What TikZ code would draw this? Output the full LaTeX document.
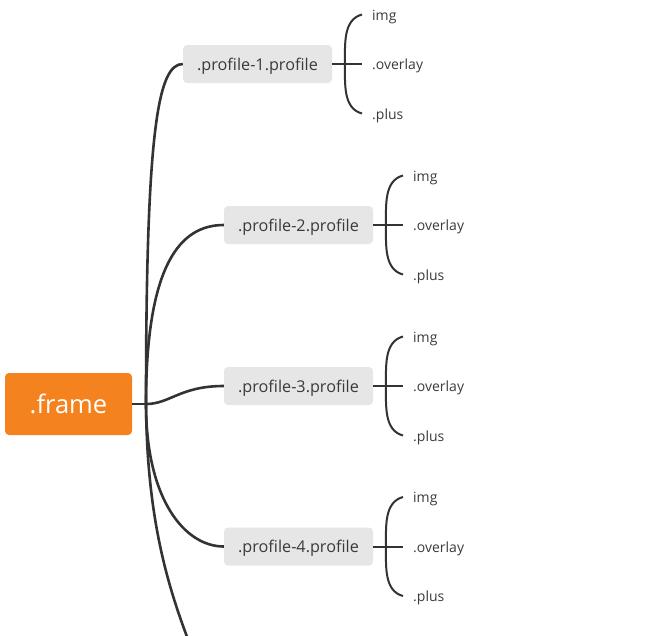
\documentclass[tikz,border=0pt]{standalone}
\usepackage{fontspec}
\setmainfont{Open Sans}
\definecolor{frameorange}{HTML}{F4831F}
\definecolor{boxgrey}{HTML}{E6E6E6}
\definecolor{linegrey}{HTML}{333333}
\definecolor{textgrey}{HTML}{3A3A3A}
\tikzset{
  rootbox/.style={fill=frameorange, rounded corners=4pt, minimum width=127pt, minimum height=62pt, inner sep=0pt, text=white, font=\fontsize{25.5}{28}\selectfont},
  profbox/.style={fill=boxgrey, rounded corners=4pt, minimum width=149pt, minimum height=38pt, inner sep=0pt, text height=15pt, text depth=3pt, text=textgrey, font=\fontsize{16.2}{19}\selectfont},
  leaf/.style={anchor=west, inner sep=0pt, text height=12pt, text depth=1pt, text=textgrey, font=\fontsize{14}{16}\selectfont},
  trunk/.style={draw=linegrey, line width=2.6pt},
  twig/.style={draw=linegrey, line width=2pt},
}
\begin{document}
\begin{tikzpicture}[x=1pt,y=-1pt]
\useasboundingbox (0,0) rectangle (666,635);
\clip (0,0) rectangle (666,635);
\node[rootbox] (frame) at (68.5,404) {.frame};
\coordinate (hub) at (146,404);
\node[profbox] (p1) at (257.5,64) {.profile-1.profile};
\node[profbox] (p2) at (298.5,225) {.profile-2.profile};
\node[profbox] (p3) at (298.5,386) {.profile-3.profile};
\node[profbox] (p4) at (298.5,546.5) {.profile-4.profile};
\coordinate (p5) at (198,665);

\draw[trunk] (frame.east) -- (hub);
\draw[trunk] (hub) .. controls (146,130) and (158,64) .. (p1.west);
\draw[trunk] (hub) .. controls (146,265) and (180,225) .. (p2.west);
\draw[trunk] (hub) .. controls (170,404) and (180,386) .. (p3.west);
\draw[trunk] (hub) .. controls (146,500) and (185,546.5) .. (p4.west);
\draw[trunk] (hub) .. controls (147,530) and (172,600) .. (p5);

\foreach \p/\cx/\cy in {1/332/64, 2/373/225, 3/373/386, 4/373/546.5} {
  \pgfmathsetmacro{\bx}{\cx+13}
  \pgfmathsetmacro{\ex}{\cx+30}
  \pgfmathsetmacro{\lx}{\cx+40}
  \pgfmathsetmacro{\ty}{\cy-49.5}
  \pgfmathsetmacro{\by}{\cy+49.5}
  \coordinate (b\p) at (\ex,\cy);
  \coordinate (t\p) at (\ex,\ty);
  \coordinate (u\p) at (\ex,\by);
  \draw[twig] (p\p.east) -- (b\p);
  \draw[twig] (t\p) .. controls (\bx-2,\ty+5) and (\bx,\ty+30) .. (\bx,\cy)
                    .. controls (\bx,\by-30) and (\bx-2,\by-5) .. (u\p);
  \node[leaf] (i\p) at (\lx,\ty) {img};
  \node[leaf] (o\p) at (\lx,\cy) {.overlay};
  \node[leaf] (s\p) at (\lx,\by) {.plus};
}
\end{tikzpicture}
\end{document}
